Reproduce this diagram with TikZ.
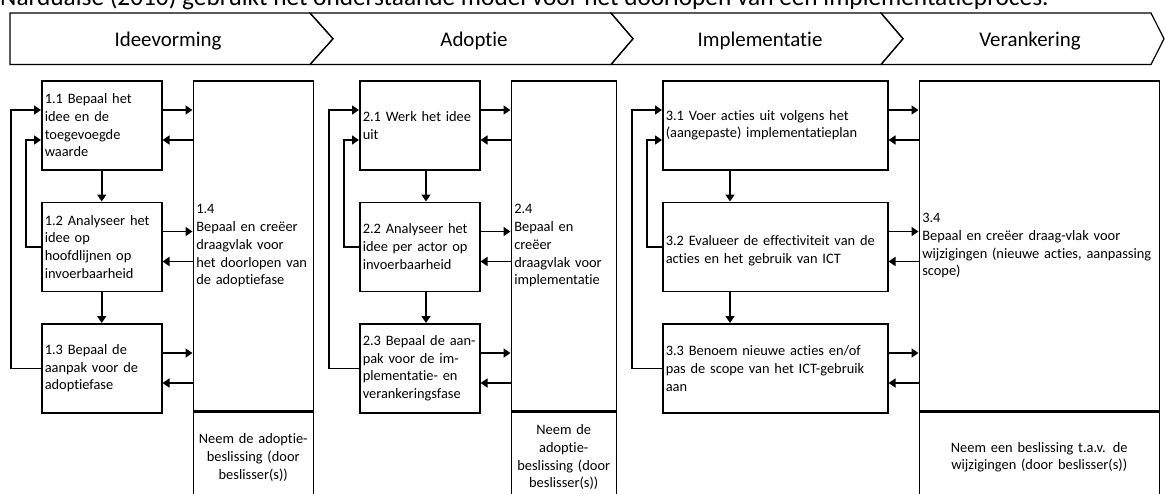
\documentclass[tikz,border=0pt]{standalone}
\usepackage{fontspec}
\setmainfont{Carlito}[Ligatures=NoCommon]
\usetikzlibrary{arrows.meta, positioning}
\newcommand{\boxfont}{\fontsize{14.4}{17.8}\selectfont\hyphenpenalty=10000\exhyphenpenalty=10000}
\newcommand{\stagefont}{\fontsize{20.9}{25}\selectfont}
\newcommand{\captionfont}{\fontsize{25.3}{30}\selectfont}

\begin{document}
\begin{tikzpicture}[x=1pt, y=-1pt,
      every node/.style={text=black},
      stage/.style={draw, line width=1.2pt},
      stepbox/.style={draw, line width=1.5pt, minimum height=89pt, inner xsep=3pt,
                      text width=#1, align=left, font=\boxfont},
      tallbox/.style={draw, line width=1.5pt, minimum height=330pt, inner xsep=3pt,
                      text width=#1, align=left, font=\boxfont},
      decbox/.style={draw, line width=1.5pt, minimum height=90pt, inner xsep=3pt,
                     text width=#1, align=center, font=\boxfont},
      arr/.style={-{Triangle[length=7pt, width=9pt]}, line width=1.5pt}
    ]
    \useasboundingbox (0,0) rectangle (1165,493);
    \clip (0,0) rectangle (1165,493);

    % caption, cut by the page edge
    \node[anchor=base west, inner sep=0pt, font=\captionfont] (caption) at (0,5.5)
      {Narduaise (2010) gebruikt het onderstaande model voor het doorlopen van een implementatieproces.};

    % phases
    \draw[stage] (10,13) -- (310,13) -- (333,38.75) -- (310,64.5) -- (10,64.5) -- cycle;
    \draw[stage] (310,13) -- (611,13) -- (633,38.75) -- (611,64.5) -- (310,64.5) -- (333,38.75) -- cycle;
    \draw[stage] (611,13) -- (881,13) -- (903,38.75) -- (881,64.5) -- (611,64.5) -- (633,38.75) -- cycle;
    \draw[stage] (881,13) -- (1151,13) -- (1164,38.75) -- (1151,64.5) -- (881,64.5) -- (903,38.75) -- cycle;
    \node[anchor=base, font=\stagefont] (ph1) at (168,46.5) {Ideevorming};
    \node[anchor=base, font=\stagefont] (ph2) at (474,46.5) {Adoptie};
    \node[anchor=base, font=\stagefont] (ph3) at (760,46.5) {Implementatie};
    \node[anchor=base, font=\stagefont] (ph4) at (1030,46.5) {Verankering};

    % column 1
    \node[stepbox=114pt, anchor=north west] (b11) at (41,80) {1.1 Bepaal het\\idee en de\\toegevoegde\\waarde};
    \node[stepbox=114pt, below=31pt of b11] (b12) {1.2 Analyseer het\\idee op\\hoofdlijnen op\\invoerbaarheid};
    \node[stepbox=114pt, below=31pt of b12] (b13) {1.3 Bepaal de\\aanpak voor de\\adoptiefase};
    \node[tallbox=114pt, right=30pt of b11.north east, anchor=north west] (b14)
      {1.4\\Bepaal en creëer\\draagvlak voor\\het doorlopen van\\de adoptiefase};
    \node[decbox=114pt, below=0pt of b14] (d1) {Neem de adoptie-\\beslissing (door\\beslisser(s))};

    \draw[arr] (b11.south) -- (b12.north);
    \draw[arr] (b12.south) -- (b13.north);
    \draw[arr] (b12.west) -- ++(-15,0) |- ([yshift=-60pt]b11.north west);
    \draw[arr] (b13.west) -- ++(-30,0) |- ([yshift=-30pt]b11.north west);
    \draw[arr] ([yshift=-30pt]b11.north east) -- ([yshift=-30pt]b11.north east -| b14.west);
    \draw[arr] ([yshift=-60pt]b11.north east -| b14.west) -- ([yshift=-60pt]b11.north east);
    \draw[arr] ([yshift=-30pt]b12.north east) -- ([yshift=-30pt]b12.north east -| b14.west);
    \draw[arr] ([yshift=-60pt]b12.north east -| b14.west) -- ([yshift=-60pt]b12.north east);
    \draw[arr] ([yshift=-30pt]b13.north east) -- ([yshift=-30pt]b13.north east -| b14.west);
    \draw[arr] ([yshift=-60pt]b13.north east -| b14.west) -- ([yshift=-60pt]b13.north east);

    % column 2
    \node[stepbox=114pt, right=45pt of b14.north east, anchor=north west] (b21) {2.1 Werk het idee\\uit};
    \node[stepbox=114pt, below=31pt of b21] (b22) {2.2 Analyseer het\\idee per actor op\\invoerbaarheid};
    \node[stepbox=114pt, below=31pt of b22] (b23) {2.3 Bepaal de aan-\\pak voor de im-\\plementatie- en\\verankeringsfase};
    \node[tallbox=99pt, right=30pt of b21.north east, anchor=north west] (b24)
      {2.4\\Bepaal en\\creëer\\draagvlak voor\\implementatie};
    \node[decbox=99pt, below=0pt of b24] (d2) {Neem de\\adoptie-\\beslissing (door\\beslisser(s))};

    \draw[arr] ([xshift=67pt]b21.south west) -- ([xshift=67pt]b22.north west);
    \draw[arr] ([xshift=67pt]b22.south west) -- ([xshift=67pt]b23.north west);
    \draw[arr] (b22.west) -- ++(-15,0) |- ([yshift=-60pt]b21.north west);
    \draw[arr] (b23.west) -- ++(-30,0) |- ([yshift=-30pt]b21.north west);
    \draw[arr] ([yshift=-30pt]b21.north east) -- ([yshift=-30pt]b21.north east -| b24.west);
    \draw[arr] ([yshift=-60pt]b21.north east -| b24.west) -- ([yshift=-60pt]b21.north east);
    \draw[arr] ([yshift=-30pt]b22.north east) -- ([yshift=-30pt]b22.north east -| b24.west);
    \draw[arr] ([yshift=-60pt]b22.north east -| b24.west) -- ([yshift=-60pt]b22.north east);
    \draw[arr] ([yshift=-30pt]b23.north east) -- ([yshift=-30pt]b23.north east -| b24.west);
    \draw[arr] ([yshift=-60pt]b23.north east -| b24.west) -- ([yshift=-60pt]b23.north east);

    % column 3
    \node[stepbox=219pt, right=45pt of b24.north east, anchor=north west] (b31)
      {3.1 Voer acties uit volgens het\\(aangepaste) implementatieplan};
    \node[stepbox=219pt, below=31pt of b31] (b32)
      {\mbox{}\\3.2 Evalueer de effectiviteit van de\\acties en het gebruik van ICT};
    \node[stepbox=219pt, below=31pt of b32] (b33)
      {3.3 Benoem nieuwe acties en/of\\pas de scope van het ICT-gebruik\\aan};
    \node[tallbox=234pt, right=30pt of b31.north east, anchor=north west] (b34)
      {3.4\\Bepaal en creëer draag-vlak voor\\wijzigingen (nieuwe acties, aanpassing\\scope)};
    \node[decbox=234pt, below=0pt of b34] (d3) {Neem een beslissing t.a.v. de\\wijzigingen (door beslisser(s))};

    \draw[arr] ([xshift=68pt]b31.south west) -- ([xshift=68pt]b32.north west);
    \draw[arr] ([xshift=68pt]b32.south west) -- ([xshift=68pt]b33.north west);
    \draw[arr] (b32.west) -- ++(-15,0) |- ([yshift=-60pt]b31.north west);
    \draw[arr] (b33.west) -- ++(-30,0) |- ([yshift=-30pt]b31.north west);
    \draw[arr] ([yshift=-30pt]b31.north east) -- ([yshift=-30pt]b31.north east -| b34.west);
    \draw[arr] ([yshift=-60pt]b31.north east -| b34.west) -- ([yshift=-60pt]b31.north east);
    \draw[arr] ([yshift=-30pt]b32.north east) -- ([yshift=-30pt]b32.north east -| b34.west);
    \draw[arr] ([yshift=-60pt]b32.north east -| b34.west) -- ([yshift=-60pt]b32.north east);
    \draw[arr] ([yshift=-30pt]b33.north east) -- ([yshift=-30pt]b33.north east -| b34.west);
    \draw[arr] ([yshift=-60pt]b33.north east -| b34.west) -- ([yshift=-60pt]b33.north east);
  \end{tikzpicture}
\end{document}
